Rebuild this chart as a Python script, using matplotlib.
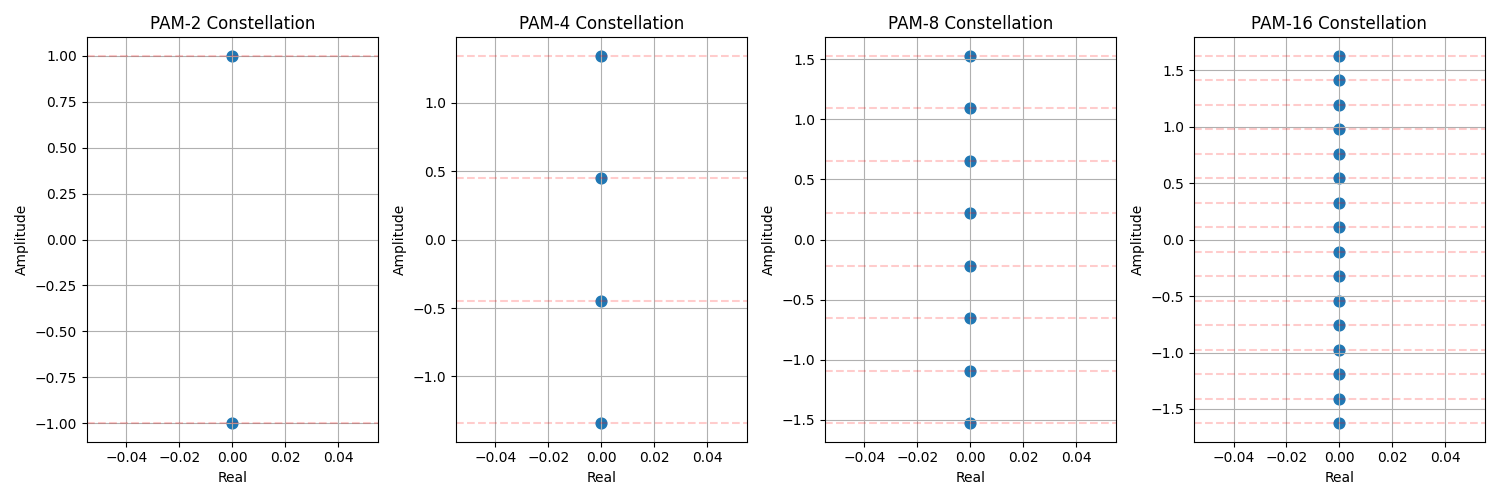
import matplotlib
matplotlib.use("Agg")
import matplotlib.pyplot as plt

titles = ["PAM-2 Constellation", "PAM-4 Constellation", "PAM-8 Constellation", "PAM-16 Constellation"]
pam2 = [-1.0, 1.0]
pam4 = [-1.342, -0.447, 0.447, 1.342]
pam8 = [-1.528, -1.091, -0.655, -0.218, 0.218, 0.655, 1.091, 1.528]
pam16 = [-1.627, -1.410, -1.193, -0.976, -0.759, -0.542, -0.325, -0.108,
         0.108, 0.325, 0.542, 0.759, 0.976, 1.193, 1.410, 1.627]
levels_all = [pam2, pam4, pam8, pam16]

fig, axes = plt.subplots(1, 4, figsize=(15, 5), dpi=100)
for ax, title, levels in zip(axes, titles, levels_all):
    ax.scatter([0.0] * len(levels), levels, s=60, color="#1f77b4")
    for lv in levels:
        ax.axhline(lv, color="red", linestyle="--", alpha=0.2)
    ax.set_title(title)
    ax.set_xlabel("Real")
    ax.set_ylabel("Amplitude")
    ax.grid(True)
fig.tight_layout()
fig.savefig("out.png")
